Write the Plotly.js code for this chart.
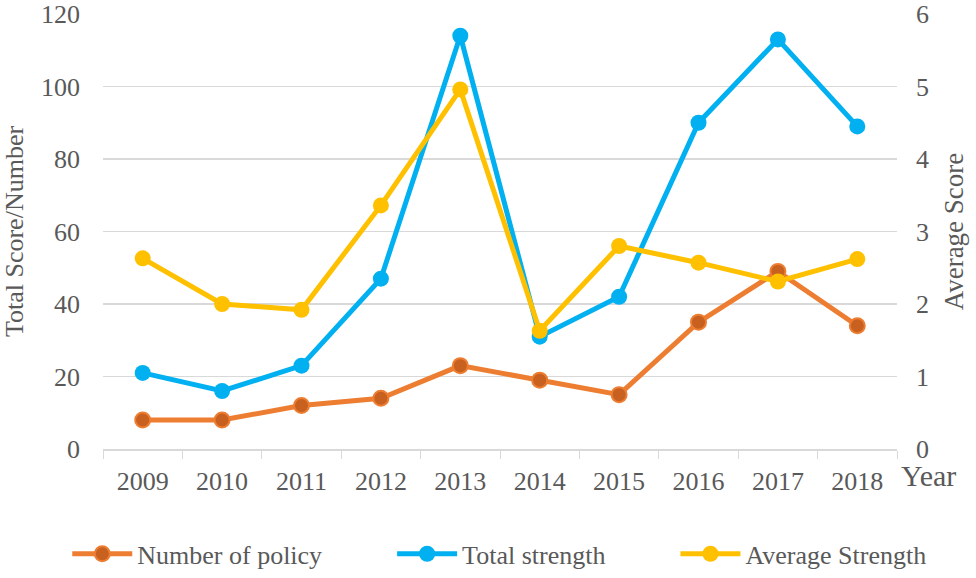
<!DOCTYPE html>
<html>
<head>
<meta charset="utf-8">
<script src="https://cdn.plot.ly/plotly-3.0.1.min.js"></script>
<style>html,body{margin:0;padding:0;background:#fff;}#chart{width:976px;height:578px;}</style>
</head>
<body>
<div id="chart"></div>
<script>
var years = ['2009','2010','2011','2012','2013','2014','2015','2016','2017','2018'];
var numberOfPolicy = [8, 8, 12, 14, 23, 19, 15, 35, 49, 34];
var totalStrength = [21, 16, 23, 47, 114, 31, 42, 90, 113, 89];
var averageStrength = [2.63, 2.0, 1.92, 3.36, 4.96, 1.63, 2.8, 2.57, 2.31, 2.62];
var seriesNames = ['Number of policy', 'Total strength', 'Average Strength'];
var leftTicks = [0, 20, 40, 60, 80, 100, 120];
var rightTicks = [0, 1, 2, 3, 4, 5, 6];

var FONT = 'Liberation Serif';
var GRAY = '#595959';
var PAD = '\u00a0\u00a0\u00a0\u00a0\u00a0\u00a0\u00a0\u00a0\u00a0\u00a0';

var traces = [
  {x: years, y: numberOfPolicy, name: seriesNames[0] + PAD, type: 'scatter', mode: 'lines+markers',
   line: {color: '#ED7D31', width: 5}, marker: {color: '#C8601F', size: 15, line: {color: '#ED7D31', width: 2}}},
  {x: years, y: totalStrength, name: seriesNames[1] + PAD, type: 'scatter', mode: 'lines+markers',
   line: {color: '#00B0F0', width: 5}, marker: {color: '#00B0F0', size: 16}},
  {x: years, y: averageStrength, name: seriesNames[2], type: 'scatter', mode: 'lines+markers', yaxis: 'y2',
   line: {color: '#FFC000', width: 5}, marker: {color: '#FFC000', size: 16}}
];

var layout = {
  width: 976, height: 578,
  margin: {l: 103, r: 79, t: 14, b: 129, autoexpand: false},
  paper_bgcolor: '#fff', plot_bgcolor: '#fff',
  font: {family: FONT, color: GRAY, size: 26},
  showlegend: true,
  legend: {orientation: 'h', x: -0.045, xanchor: 'left', y: -0.241, yanchor: 'middle',
           font: {family: FONT, size: 26, color: GRAY}, itemwidth: 60, traceorder: 'normal'},
  xaxis: {type: 'category', tickson: 'boundaries', ticks: 'outside', ticklen: 8, tickcolor: '#d9d9d9',
          showline: true, linecolor: '#d9d9d9', linewidth: 1.5, showgrid: false,
          tickfont: {family: FONT, size: 26, color: GRAY}, ticklabelstandoff: 8, range: [-0.5, 9.5]},
  yaxis: {range: [0, 120], tickvals: leftTicks, ticktext: leftTicks.map(String), showgrid: true, gridcolor: '#d9d9d9',
          gridwidth: 1.5, zeroline: false, showline: false, ticks: '', ticklabelstandoff: 22,
          tickfont: {family: FONT, size: 26, color: GRAY},
          title: {text: 'Total Score/Number', font: {family: FONT, size: 26, color: GRAY}, standoff: 12}},
  yaxis2: {range: [0, 6], tickvals: rightTicks, ticktext: rightTicks.map(String), overlaying: 'y', side: 'right',
           showgrid: false, zeroline: false, showline: false, ticks: '', ticklabelstandoff: 18,
           tickfont: {family: FONT, size: 26, color: GRAY},
           title: {text: 'Average Score', font: {family: FONT, size: 27, color: GRAY}, standoff: 16}},
  annotations: [{text: 'Year', xref: 'paper', yref: 'paper', x: 1.0, y: 0, xanchor: 'left', yanchor: 'top',
                 xshift: 2, yshift: -8, showarrow: false, font: {family: FONT, size: 30, color: GRAY}}]
};

Plotly.newPlot('chart', traces, layout, {displayModeBar: false, staticPlot: true});
</script>
</body>
</html>
